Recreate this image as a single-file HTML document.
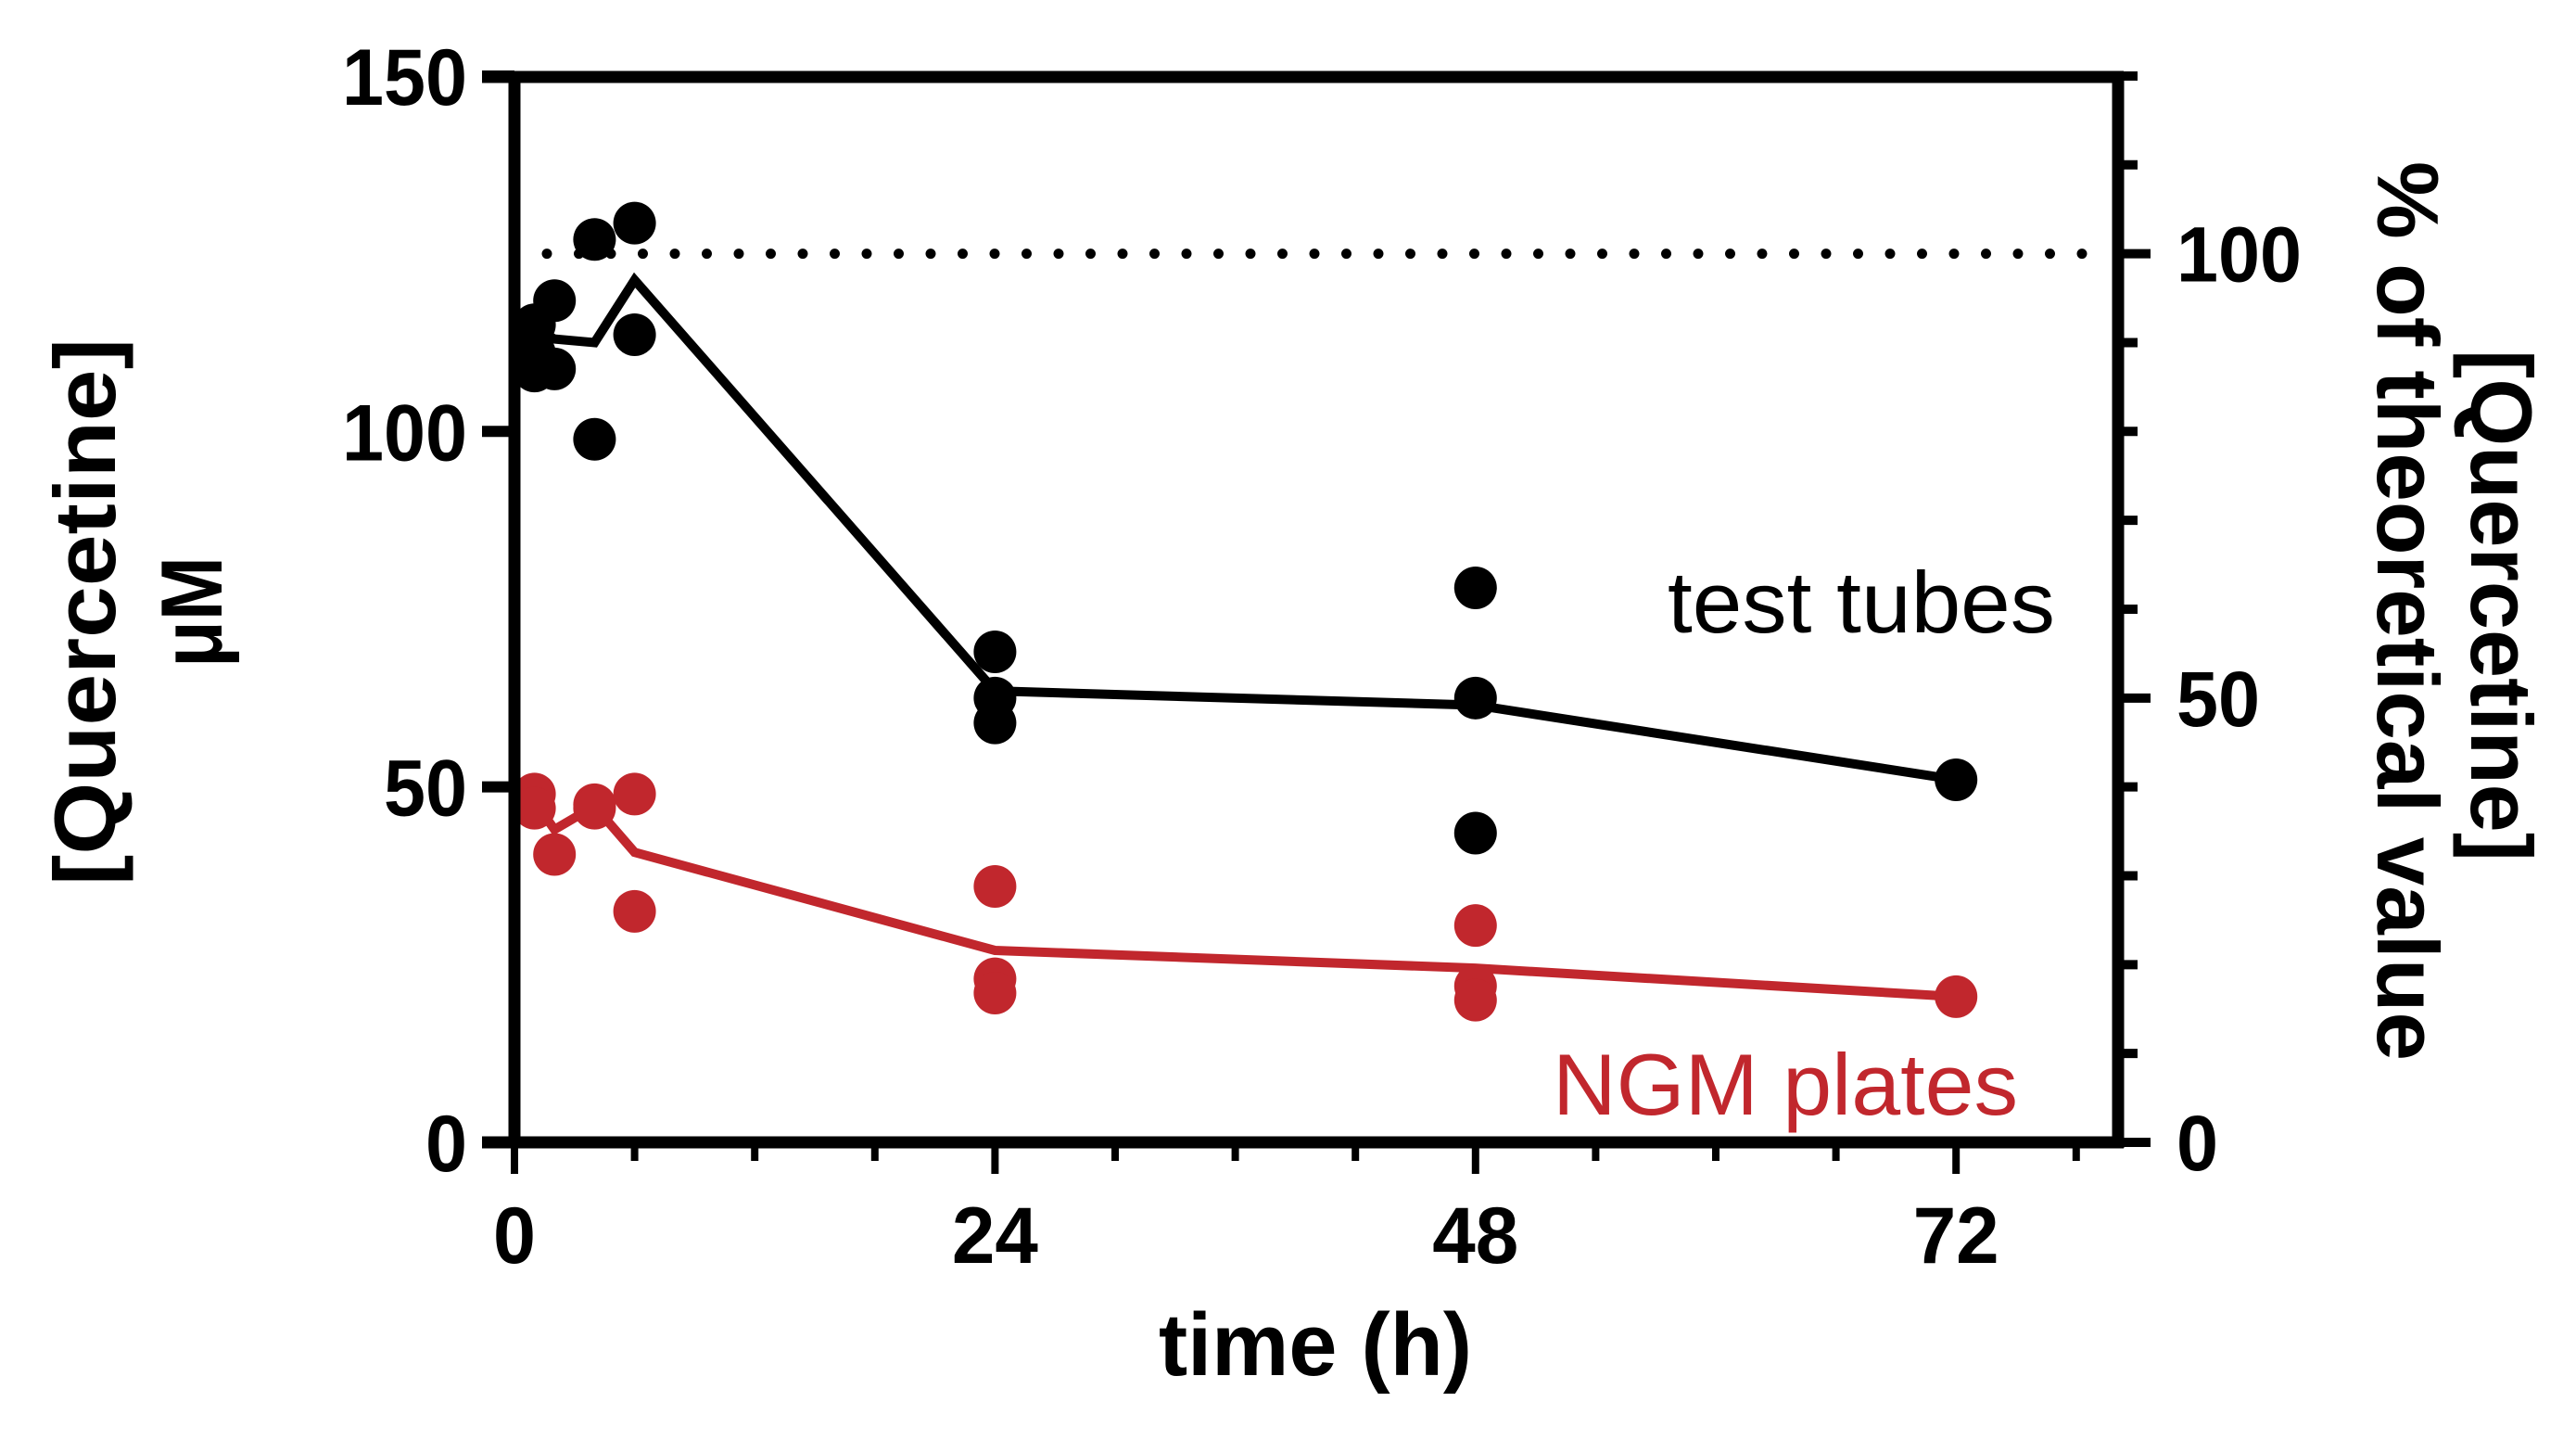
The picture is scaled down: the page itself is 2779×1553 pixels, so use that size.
<!DOCTYPE html>
<html><head><meta charset="utf-8"><style>
html,body{margin:0;padding:0;background:#fff;}
svg{display:block;font-family:"Liberation Sans",sans-serif;}
</style></head><body>
<svg id="chart" width="2779" height="1553" viewBox="0 0 2779 1553" xmlns="http://www.w3.org/2000/svg">
<rect width="2779" height="1553" fill="#fff"/>
<g id="marks"></g>
<g id="axes"></g>
</svg>
<script>
const tubeTimes = [1,1,1,2,2,4,4,6,6,24,24,24,48,48,48,72];
const tubeValues = [115,111,108.5,118.4,108.8,127,98.9,129.3,113.6,69,62.5,59,78,62.5,43.5,51];
const plateTimes = [1,1,2,4,4,6,6,24,24,24,48,48,48,72];
const plateValues = [49,47,40.5,47.5,47,49,32.5,36,23,21,30.5,22,20,20.5];
const meanTimes = [1,2,4,6,24,48,72];
const tubeMeans = [114.5,113,112.5,121.3,63.5,61.5,51];
const plateMeans = [48,44,47.3,40.8,27,24.5,20.5];
const xTicks = [0,24,48,72];
const yTicks = [0,50,100,150];
const rTicks = [0,50,100];
const theoretical = 125;

const NS="http://www.w3.org/2000/svg";
const X0=555, PXH=21.6, Y0=1232, PXU=7.667;
const xs=t=>X0+t*PXH, ys=v=>Y0-v*PXU;
const marks=document.getElementById('marks'), axes=document.getElementById('axes');
function mk(tag,attrs,parent){const e=document.createElementNS(NS,tag);for(const k in attrs)e.setAttribute(k,attrs[k]);parent.appendChild(e);return e;}

// dotted theoretical line
const dl=mk('line',{x1:590,x2:2270,y1:ys(theoretical),y2:ys(theoretical),stroke:'#000','stroke-width':11,'stroke-dasharray':'0 34.5','stroke-linecap':'round'},marks);



function series(times,vals,mt,mv,color,name){
  const pl=mk('polyline',{points:mt.map((t,i)=>xs(t)+','+ys(mv[i])).join(' '),fill:'none',stroke:color,'stroke-width':10,'stroke-linejoin':'miter'},marks);
  
  
  times.forEach((t,i)=>{
    const c=mk('circle',{cx:xs(t),cy:ys(vals[i]),r:23,fill:color},marks);
    
    
  });
}
series(plateTimes,plateValues,meanTimes,plateMeans,'#c1272d','ngm-plates');
series(tubeTimes,tubeValues,meanTimes,tubeMeans,'#000','test-tubes');

// axes frame
const RX=2285;
mk('line',{x1:555,x2:555,y1:77,y2:1238,stroke:'#000','stroke-width':13},axes);
mk('line',{x1:RX,x2:RX,y1:77,y2:1238,stroke:'#000','stroke-width':13},axes);
mk('line',{x1:520,x2:RX+6,y1:83,y2:83,stroke:'#000','stroke-width':13},axes);
mk('line',{x1:520,x2:RX+6,y1:1232,y2:1232,stroke:'#000','stroke-width':13},axes);
// x ticks
for(let h=0;h<=78;h+=6){
  const major=h%24===0;
  mk('line',{x1:xs(h),x2:xs(h),y1:1232,y2:major?1266:1252,stroke:'#000','stroke-width':8},axes);
}
xTicks.forEach(t=>{
  const tx=mk('text',{x:xs(t),y:1362,'text-anchor':'middle','font-size':86,'font-weight':'bold',textLength:t===0?46:93,lengthAdjust:'spacingAndGlyphs'},axes);
  tx.textContent=t;
  
  
});
// left y ticks
for(let v=0;v<=150;v+=25){
  if(v%50===0) mk('line',{x1:520,x2:555,y1:ys(v),y2:ys(v),stroke:'#000','stroke-width':12},axes);
}
yTicks.forEach(v=>{
  const tx=mk('text',{x:504,y:ys(v)+31,'text-anchor':'end','font-size':86,'font-weight':'bold',textLength:String(v).length*45,lengthAdjust:'spacingAndGlyphs'},axes);
  tx.textContent=v;
  
  
});
// right ticks (percent)
for(let p=0;p<=120;p+=10){
  const y=ys(p/100*theoretical);
  mk('line',{x1:RX,x2:p%50===0?2320:2306,y1:y,y2:y,stroke:'#000','stroke-width':10},axes);
}
rTicks.forEach(p=>{
  const tx=mk('text',{x:2348,y:ys(p/100*theoretical)+30,'font-size':84,'font-weight':'bold',textLength:String(p).length*45,lengthAdjust:'spacingAndGlyphs'},axes);
  tx.textContent=p;
  
  
});
</script>
<svg style="position:absolute;left:0;top:0" width="2779" height="1553">
<text x="1419" y="1483" text-anchor="middle" font-family="Liberation Sans, sans-serif" font-size="96" font-weight="bold" textLength="338" lengthAdjust="spacingAndGlyphs">time (h)</text>
<text x="1799" y="682" font-family="Liberation Sans, sans-serif" font-size="94" textLength="418" lengthAdjust="spacingAndGlyphs" fill="#000">test tubes</text>
<text x="1675" y="1202" font-family="Liberation Sans, sans-serif" font-size="94" textLength="502" lengthAdjust="spacingAndGlyphs" fill="#c1272d">NGM plates</text>
<g transform="translate(124,660) rotate(-90)">
<text x="0" y="0" text-anchor="middle" font-family="Liberation Sans, sans-serif" font-size="94" font-weight="bold" textLength="590" lengthAdjust="spacingAndGlyphs">[Quercetine]</text>
<text x="0" y="115" text-anchor="middle" font-family="Liberation Sans, sans-serif" font-size="94" font-weight="bold" textLength="120" lengthAdjust="spacingAndGlyphs">μM</text>
</g>
<g transform="translate(2666,653) rotate(90)">
<text x="0" y="0" text-anchor="middle" font-family="Liberation Sans, sans-serif" font-size="94" font-weight="bold" textLength="552" lengthAdjust="spacingAndGlyphs">[Quercetine]</text>
<text x="6" y="101" text-anchor="middle" font-family="Liberation Sans, sans-serif" font-size="94" font-weight="bold" textLength="970" lengthAdjust="spacingAndGlyphs">% of theoretical value</text>
</g>
</svg>
</body></html>
